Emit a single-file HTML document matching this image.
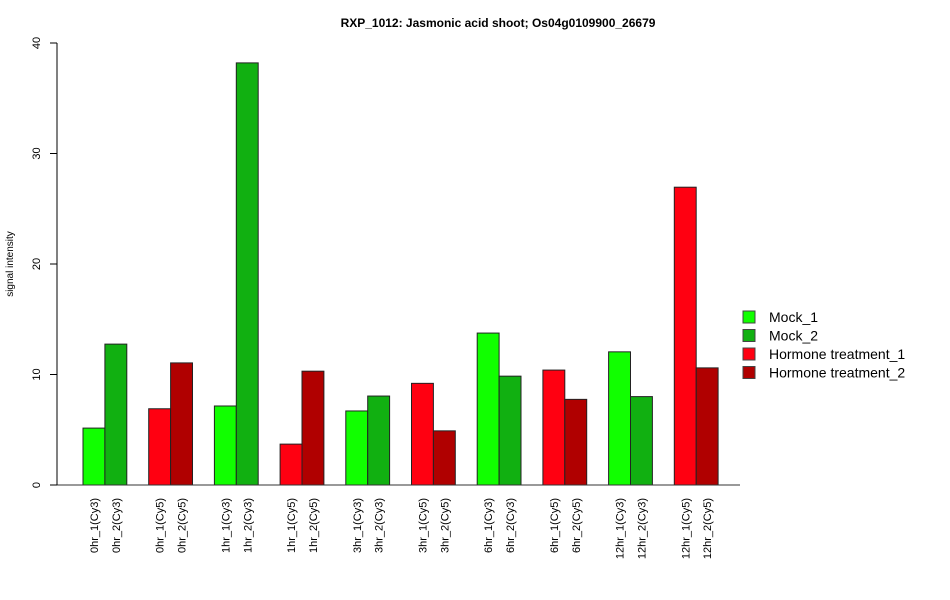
<!DOCTYPE html>
<html><head><meta charset="utf-8"><style>body{margin:0;background:#fff}svg{display:block;font-family:"Liberation Sans",Arial,sans-serif}</style></head>
<body>
<svg id="c" width="950" height="600">
<text x="498" y="27" text-anchor="middle" font-size="12" font-weight="bold">RXP_1012: Jasmonic acid shoot; Os04g0109900_26679</text>
<text transform="translate(13,264) rotate(-90)" text-anchor="middle" font-size="10">signal intensity</text>
<g id="bars"></g><g id="yaxis"></g><g id="xlabels"></g><g id="legend"></g>
</svg>
<script>
const categories=["0hr_1(Cy3)","0hr_2(Cy3)","0hr_1(Cy5)","0hr_2(Cy5)","1hr_1(Cy3)","1hr_2(Cy3)","1hr_1(Cy5)","1hr_2(Cy5)","3hr_1(Cy3)","3hr_2(Cy3)","3hr_1(Cy5)","3hr_2(Cy5)","6hr_1(Cy3)","6hr_2(Cy3)","6hr_1(Cy5)","6hr_2(Cy5)","12hr_1(Cy3)","12hr_2(Cy3)","12hr_1(Cy5)","12hr_2(Cy5)"];
const values=[5.15,12.75,6.9,11.05,7.15,38.2,3.7,10.3,6.7,8.05,9.2,4.9,13.75,9.85,10.4,7.75,12.05,8.0,26.95,10.6];
const seriesIdx=[0,1,2,3,0,1,2,3,0,1,2,3,0,1,2,3,0,1,2,3];
const seriesNames=["Mock_1","Mock_2","Hormone treatment_1","Hormone treatment_2"];
const yTicks=[0,10,20,30,40];
const colors=["#11ff00","#11b011","#ff0011","#b00000"];
const NS="http://www.w3.org/2000/svg";
function mk(t,a,p){const e=document.createElementNS(NS,t);for(const k in a)e.setAttribute(k,a[k]);p.appendChild(e);return e;}
const y0=485,pxPer=(485-43)/40;
const yS=v=>y0-v*pxPer;
const bw=21.9;
const xS=i=>83+Math.floor(i/2)*65.7+(i%2)*bw;
const bars=document.getElementById('bars');
values.forEach((v,i)=>{const r=mk('rect',{x:xS(i),y:yS(v),width:bw,height:v*pxPer,fill:colors[seriesIdx[i]],stroke:'#222','stroke-width':1},bars);

});
const ya=document.getElementById('yaxis');
mk('line',{x1:50,x2:740,y1:y0,y2:y0,stroke:'#333'},ya);
mk('line',{x1:57,x2:57,y1:yS(0),y2:yS(40),stroke:'#000'},ya);
yTicks.forEach(t=>{mk('line',{x1:50,x2:57,y1:yS(t),y2:yS(t),stroke:'#000'},ya);
const tx=mk('text',{transform:`translate(40,${yS(t)}) rotate(-90)`,'text-anchor':'middle','font-size':11},ya);tx.textContent=t;

});
const xl=document.getElementById('xlabels');
categories.forEach((c,i)=>{const tx=mk('text',{transform:`translate(${xS(i)+bw/2+4},498) rotate(-90)`,'text-anchor':'end','font-size':11},xl);tx.textContent=c;

});
const lg=document.getElementById('legend');
seriesNames.forEach((n,i)=>{const yy=317+i*18.5;
const r=mk('rect',{x:743,y:yy-6,width:12,height:12,fill:colors[i],stroke:'#444'},lg);


const t=mk('text',{x:769,y:yy+5,'font-size':14},lg);t.textContent=n;

});
</script>
</body></html>
